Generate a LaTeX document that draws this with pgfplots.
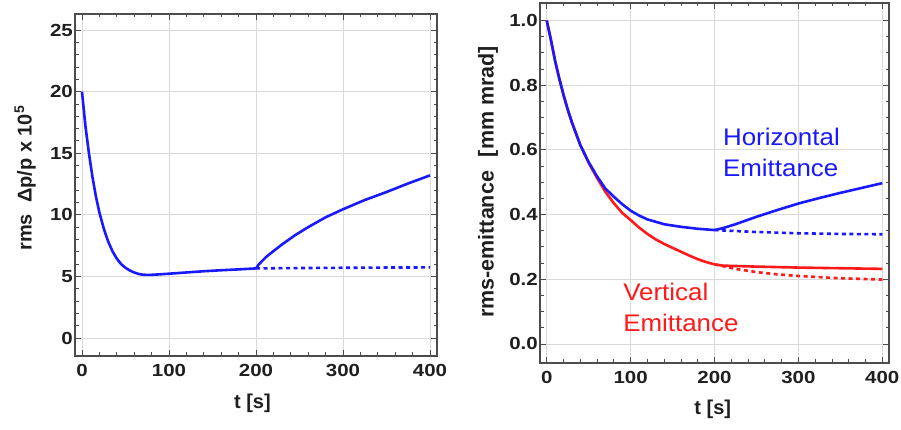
\documentclass[border=0pt]{standalone}
\usepackage{pgfplots}
\pgfplotsset{compat=1.18}
\usepackage{fontspec}
\setmainfont{Liberation Sans}
\newfontfamily\widefont[FakeStretch=1.17]{Liberation Sans}
\newfontfamily\midfont[FakeStretch=1.08]{Liberation Sans}
\definecolor{fr}{gray}{0.3}
\definecolor{tx}{gray}{0.12}
\definecolor{pblue}{rgb}{0.1,0.1,1}
\definecolor{pred}{rgb}{1,0.1,0.1}
\pgfplotsset{
  mstyle/.style={
    scale only axis,
    anchor=south west,
    axis line style={fr, line width=1.4pt},
    tick style={fr, line width=0.8pt},
    tick align=inside,
    major tick length=6pt,
    minor tick length=3.5pt,
    xticklabel pos=left, yticklabel pos=left,
    grid=major,
    major grid style={gray!30, line width=0.8pt},
    /pgf/number format/assume math mode=true,
    tick label style={font=\widefont\bfseries\fontsize{17.5}{17.5}\selectfont, text=tx},
    label style={font=\bfseries\fontsize{20}{20}\selectfont, text=tx},
    xticklabel style={inner sep=1pt, yshift=-7pt},
    yticklabel style={inner sep=1pt, xshift=-1pt},
    xmin=-8, xmax=408,
    xtick={0,100,200,300,400},
    minor x tick num=4,
    clip=true,
  }
}
\begin{document}
\begin{tikzpicture}
\path[use as bounding box] (0pt,0pt) rectangle (901pt,430pt);
% Left axis
\begin{axis}[mstyle,
  at={(75pt,74pt)}, width=362pt, height=342pt,
  ymin=-1.46, ymax=26.3,
  ytick={0,5,10,15,20,25},
  minor y tick num=4,
  xlabel={t [s]},
  xlabel style={at={(axis description cs:0.49,-0.137)}, anchor=center},
  ylabel={rms\ \ Δp/p x 10\textsuperscript{5}},
  ylabel style={at={(axis description cs:-0.138,0.52)}, anchor=center, rotate=0},
]
\addplot[pblue, line width=2.6pt] coordinates {
(0,20) (4,17.2) (8,15.0) (12,13.1) (16,11.5) (20,10.2) (25,8.9) (30,7.85)
(35,7.05) (40,6.45) (45,6.0) (50,5.7) (55,5.48) (60,5.32) (65,5.2) (70,5.14)
(75,5.12) (80,5.13) (90,5.17) (100,5.22) (120,5.32) (140,5.42) (160,5.5)
(180,5.57) (200,5.65)
};
\addplot[pblue, line width=2.6pt] coordinates {
(200,5.65) (203,5.95) (207,6.25) (212,6.6) (220,7.05) (230,7.6) (245,8.35)
(260,9.0) (280,9.8) (300,10.45) (325,11.2) (350,11.85) (375,12.55) (400,13.2)
};
\addplot[pblue, line width=2.6pt, dash pattern=on 4pt off 3.5pt] coordinates {
(200,5.65) (250,5.68) (300,5.7) (350,5.72) (400,5.73)
};
\end{axis}
% Right axis
\begin{axis}[mstyle,
  at={(540pt,67pt)}, width=349pt, height=360pt,
  ymin=-0.059, ymax=1.054,
  ytick={0,0.2,0.4,0.6,0.8,1.0},
  yticklabel style={/pgf/number format/.cd, fixed, fixed zerofill, precision=1},
  minor y tick num=3,
  xlabel={t [s]},
  xlabel style={at={(axis description cs:0.495,-0.13)}, anchor=center},
  ylabel={rms-emittance\hspace{14pt}[mm mrad]},
  ylabel style={at={(axis description cs:-0.149,0.503)}, anchor=center, rotate=0,
    font=\bfseries\fontsize{21.5}{21.5}\selectfont},
]
\addplot[pred, line width=2.6pt] coordinates {
(0,1.0) (5,0.94) (10,0.875) (15,0.82) (20,0.77) (25,0.725) (30,0.685)
(40,0.615) (50,0.56) (60,0.513) (70,0.47) (80,0.435) (90,0.405) (100,0.383)
(110,0.36) (120,0.34) (130,0.323) (140,0.309) (150,0.297) (160,0.285)
(170,0.273) (180,0.262) (190,0.253) (200,0.246)
};
\addplot[pred, line width=2.6pt] coordinates {
(200,0.246) (210,0.242) (250,0.239) (300,0.236) (350,0.234) (400,0.232)
};
\addplot[pred, line width=2.6pt, dash pattern=on 4pt off 3.5pt] coordinates {
(200,0.246) (225,0.232) (250,0.222) (275,0.215) (300,0.21) (350,0.203) (400,0.199)
};
\addplot[pblue, line width=2.6pt] coordinates {
(0,1.0) (5,0.94) (10,0.875) (15,0.82) (20,0.77) (25,0.725) (30,0.685)
(40,0.615) (50,0.562) (60,0.518) (70,0.48) (80,0.455) (90,0.432) (100,0.412)
(110,0.397) (120,0.385) (140,0.37) (160,0.362) (180,0.356) (200,0.352)
};
\addplot[pblue, line width=2.6pt] coordinates {
(200,0.352) (210,0.358) (225,0.37) (250,0.393) (275,0.414) (300,0.434)
(325,0.451) (350,0.467) (375,0.482) (400,0.497)
};
\addplot[pblue, line width=2.6pt, dash pattern=on 4pt off 3.5pt] coordinates {
(200,0.352) (250,0.346) (300,0.342) (350,0.34) (400,0.339)
};
\node[anchor=west, align=left, text=pblue, font=\midfont\fontsize{24}{31}\selectfont, inner sep=0pt]
  at (axis cs:210,0.592) {Horizontal\\Emittance};
\node[anchor=west, align=left, text=pred, font=\midfont\fontsize{24}{31}\selectfont, inner sep=0pt]
  at (axis cs:91,0.113) {Vertical\\Emittance};
\end{axis}
\end{tikzpicture}
\end{document}
